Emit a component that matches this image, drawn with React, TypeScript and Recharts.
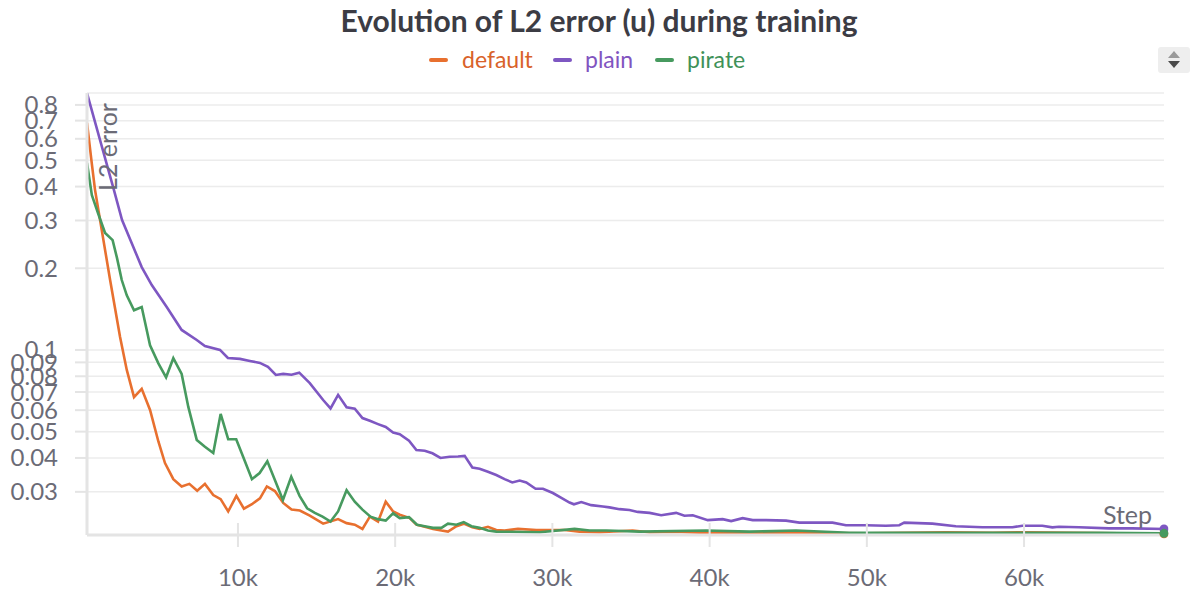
import React from 'react';
import { LineChart, Line, XAxis, YAxis, CartesianGrid } from 'recharts';

// [step, L2 error]
const defaultSeries: [number, number][] = [
  [400, 0.686], [700, 0.489], [910, 0.389], [1870, 0.181], [2500, 0.1119], [2930, 0.0844],
  [3390, 0.067], [3880, 0.0719], [4410, 0.0601], [4940, 0.046], [5360, 0.0383], [5890, 0.0334],
  [6420, 0.0314], [6910, 0.0321], [7410, 0.0303], [7900, 0.0321], [8430, 0.0292], [8900, 0.0282],
  [9380, 0.0254], [9900, 0.029], [10380, 0.026], [10890, 0.027], [11400, 0.0284], [11840, 0.0314],
  [12350, 0.0302], [12880, 0.0273], [13410, 0.0258], [13940, 0.0256], [14570, 0.0245], [15420, 0.0229],
  [15850, 0.0233], [16370, 0.0238], [16910, 0.023], [17430, 0.0227], [17920, 0.0219], [18390, 0.0243],
  [18910, 0.0233], [19400, 0.0276], [19870, 0.0254], [20290, 0.0247], [20930, 0.024], [21350, 0.0227],
  [21880, 0.0223], [22410, 0.0219], [22940, 0.0216], [23360, 0.0214], [23900, 0.0224], [24360, 0.0229],
  [24910, 0.0222], [25370, 0.0219], [25900, 0.0223], [26430, 0.0217], [26960, 0.0216], [27810, 0.0219],
  [28980, 0.0217], [30780, 0.0217], [31730, 0.0214], [33000, 0.0213], [35100, 0.0216], [36180, 0.0213],
  [37870, 0.0214], [39350, 0.0212], [45000, 0.0212], [50000, 0.0211], [55000, 0.0213], [58000, 0.0212],
  [60000, 0.0213], [63000, 0.0212], [66000, 0.0211], [68900, 0.021],
];

const plainSeries: [number, number][] = [
  [400, 0.884], [2080, 0.395], [2630, 0.301], [3880, 0.202], [4520, 0.1735], [5470, 0.144],
  [6420, 0.1185], [7380, 0.1088], [7900, 0.1034], [8860, 0.1], [9360, 0.0934], [10130, 0.0927],
  [10760, 0.0911], [11400, 0.0896], [11910, 0.0866], [12410, 0.0809], [12880, 0.0816], [13410, 0.081],
  [13900, 0.0825], [14570, 0.0755], [15420, 0.0654], [15890, 0.0609], [16370, 0.0683], [16910, 0.0615],
  [17430, 0.0607], [17920, 0.0561], [18390, 0.0548], [18910, 0.0533], [19400, 0.052], [19870, 0.0496],
  [20290, 0.0489], [20880, 0.0463], [21350, 0.0428], [21880, 0.0425], [22370, 0.0416], [22880, 0.04],
  [23470, 0.0404], [24000, 0.0405], [24420, 0.0407], [24910, 0.0369], [25370, 0.0365], [25900, 0.0356],
  [26430, 0.0346], [26960, 0.0334], [27450, 0.0325], [27920, 0.033], [28340, 0.0325], [28930, 0.0308],
  [29400, 0.0308], [30030, 0.0297], [30570, 0.0285], [31090, 0.0274], [31370, 0.027], [31840, 0.0275],
  [32470, 0.0268], [33210, 0.0265], [33630, 0.0263], [34270, 0.0259], [34900, 0.0257], [35430, 0.0253],
  [36180, 0.0251], [36920, 0.0246], [37870, 0.0251], [38400, 0.0245], [38930, 0.0246], [39880, 0.0236],
  [40830, 0.0238], [41370, 0.0234], [42100, 0.024], [42740, 0.0236], [43590, 0.0236], [44860, 0.0235],
  [45710, 0.0231], [46870, 0.0231], [47820, 0.0231], [48670, 0.0226], [49940, 0.0226], [51210, 0.0225],
  [52060, 0.0226], [52380, 0.0231], [54170, 0.0229], [55660, 0.0224], [57350, 0.0222], [59260, 0.0222],
  [59890, 0.0225], [61160, 0.0225], [61800, 0.0222], [62220, 0.0223], [63490, 0.0222], [65400, 0.022],
  [66880, 0.022], [68900, 0.0219],
];

const pirateSeries: [number, number][] = [
  [400, 0.489], [710, 0.372], [1120, 0.317], [1550, 0.27], [2030, 0.254], [2310, 0.218],
  [2610, 0.181], [2930, 0.159], [3390, 0.14], [3880, 0.144], [4410, 0.104], [4940, 0.0893],
  [5430, 0.0793], [5890, 0.0932], [6420, 0.0816], [6840, 0.0618], [7380, 0.0466], [7900, 0.044],
  [8430, 0.0417], [8900, 0.0581], [9380, 0.0469], [9890, 0.0469], [10380, 0.0397], [10890, 0.0334],
  [11380, 0.0352], [11870, 0.0389], [12350, 0.0332], [12860, 0.028], [13390, 0.0341], [13920, 0.029],
  [14400, 0.0261], [14890, 0.0251], [15380, 0.0243], [15890, 0.0233], [16370, 0.0254], [16910, 0.0304],
  [17430, 0.0276], [17920, 0.0258], [18430, 0.0243], [18910, 0.0238], [19400, 0.0235], [19870, 0.025],
  [20290, 0.024], [20880, 0.0242], [21390, 0.0227], [21880, 0.0224], [22410, 0.0221], [22940, 0.0221],
  [23360, 0.0229], [23900, 0.0227], [24360, 0.0232], [24850, 0.0224], [25370, 0.0221], [25900, 0.0216],
  [26430, 0.0214], [29200, 0.0213], [31410, 0.0219], [32370, 0.0216], [33430, 0.0216], [35550, 0.0214],
  [39780, 0.0216], [42530, 0.0214], [45500, 0.0216], [48880, 0.0212], [52060, 0.0212], [58410, 0.0212],
  [64770, 0.0212], [68900, 0.0211],
];

const yTicks = [0.03, 0.04, 0.05, 0.06, 0.07, 0.08, 0.09, 0.1, 0.2, 0.3, 0.4, 0.5, 0.6, 0.7, 0.8];
const xTicks = [10000, 20000, 30000, 40000, 50000, 60000];

const series = [
  { name: 'default', color: '#e8702f', text: '#d9622a', points: defaultSeries },
  { name: 'plain', color: '#7e57c2', text: '#8154c0', points: plainSeries },
  { name: 'pirate', color: '#479a5f', text: '#3f9158', points: pirateSeries },
];

const FONT = 'Lato, "Noto Sans", sans-serif';
const GRAY = '#6b6b76';

const toRows = (pts: [number, number][]) => pts.map(([step, value]) => ({ step, value }));

const XTick = (props: any) => {
  const { x, y, payload } = props;
  return (
    <g>
      <line x1={x} x2={x} y1={y - 12} y2={y + 12} stroke="#e4e4e4" strokeWidth={2} />
      <text x={x} y={y + 51} textAnchor="middle" fill={GRAY} fontSize={24} fontFamily={FONT}>
        {payload.value / 1000}k
      </text>
    </g>
  );
};

export default function App() {
  return (
    <div style={{ position: 'absolute', left: 0, top: 0, width: 1198, height: 590, background: '#fff', fontFamily: FONT }}>
      <div style={{ position: 'absolute', left: 0, top: 1, width: 1198, textAlign: 'center', fontSize: 30, fontWeight: 700, color: '#3c3c44', lineHeight: '38px' }}>
        Evolution of L2 error (u) during training
      </div>

      {/* legend */}
      {series.map((s, i) => {
        const dashX = [429, 553, 655][i];
        const textX = [462, 585, 687][i];
        return (
          <React.Fragment key={s.name}>
            <div style={{ position: 'absolute', left: dashX, top: 58, width: 19, height: 4, borderRadius: 2, background: s.color }} />
            <div style={{ position: 'absolute', left: textX, top: 45, fontSize: 23, color: s.text, lineHeight: '28px' }}>{s.name}</div>
          </React.Fragment>
        );
      })}

      {/* spinner widget */}
      <div style={{ position: 'absolute', left: 1158, top: 47, width: 32, height: 26, background: '#eeeeee', borderRadius: 3 }}>
        <div style={{ position: 'absolute', left: 10, top: 4, width: 0, height: 0, borderLeft: '6px solid transparent', borderRight: '6px solid transparent', borderBottom: '7px solid #9a9a9a' }} />
        <div style={{ position: 'absolute', left: 10, top: 14, width: 0, height: 0, borderLeft: '6px solid transparent', borderRight: '6px solid transparent', borderTop: '7px solid #4a4a4a' }} />
      </div>

      <LineChart width={1198} height={590} margin={{ top: 93, right: 34, bottom: 0, left: 0 }} style={{ position: 'absolute', left: 0, top: 0 }}>
        <CartesianGrid vertical={false} stroke="#ececec" strokeWidth={1.5} />
        <XAxis
          type="number"
          dataKey="step"
          domain={[400, 68900]}
          ticks={xTicks}
          allowDataOverflow
          height={55}
          tickSize={0}
          tickMargin={0}
          tickLine={false}
          axisLine={{ stroke: '#e4e4e4', strokeWidth: 3 }}
          tick={<XTick />}
        />
        <YAxis
          type="number"
          scale="log"
          domain={[0.0208, 0.885]}
          allowDataOverflow
          ticks={yTicks}
          interval={0}
          width={87}
          tickSize={12}
          tickMargin={17}
          tickLine={{ stroke: '#e4e4e4', strokeWidth: 2 }}
          axisLine={{ stroke: '#e4e4e4', strokeWidth: 3 }}
          tick={{ fill: GRAY, fontSize: 24, fontFamily: FONT }}
        />
        {series.map((s) => (
          <Line
            key={s.name}
            data={toRows(s.points)}
            dataKey="value"
            name={s.name}
            type="linear"
            stroke={s.color}
            strokeWidth={2.6}
            isAnimationActive={false}
            dot={false}
            activeDot={false}
          />
        ))}
        {/* end-of-run markers */}
        {series.map((s) => (
          <Line
            key={`${s.name}-end`}
            data={toRows(s.points.slice(-1))}
            dataKey="value"
            stroke="none"
            isAnimationActive={false}
            dot={{ r: 4.5, fill: s.color, stroke: s.color, strokeWidth: 0, clipDot: false }}
            activeDot={false}
            legendType="none"
          />
        ))}
      </LineChart>

      <div style={{ position: 'absolute', left: 90, top: 147, transform: 'translate(0, -50%) rotate(-90deg)', transformOrigin: 'center', fontSize: 25, color: GRAY, whiteSpace: 'nowrap', lineHeight: '30px', width: 90, marginLeft: -28, textAlign: 'center' }}>
        L2 error
      </div>
      <div style={{ position: 'absolute', right: 1198 - 1152, top: 499, fontSize: 25, color: GRAY, lineHeight: '30px' }}>
        Step
      </div>
    </div>
  );
}
